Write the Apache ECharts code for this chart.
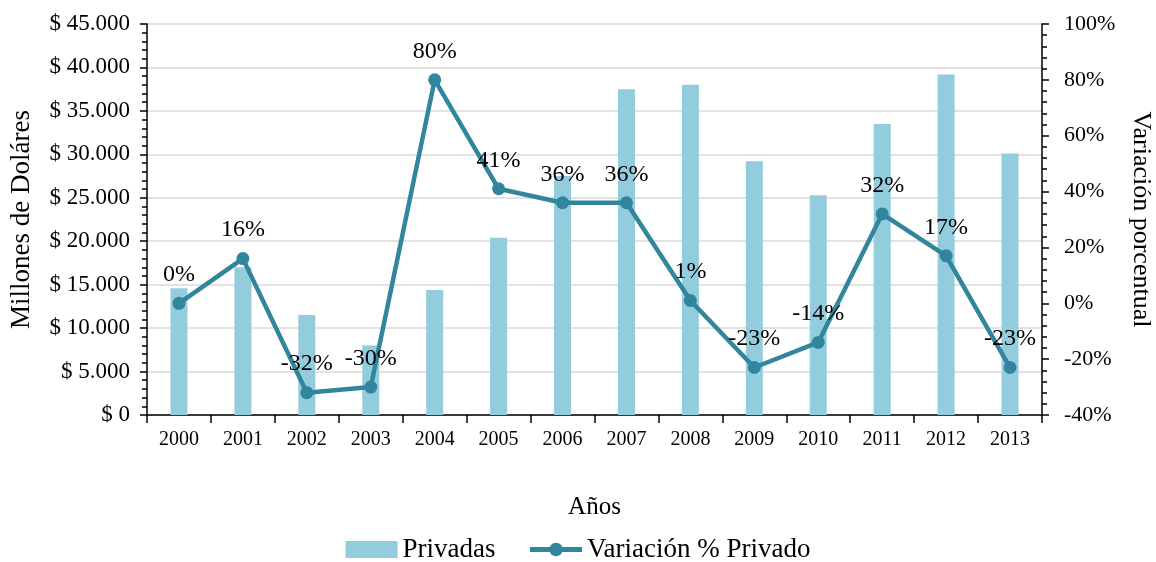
<!DOCTYPE html>
<html>
<head>
<meta charset="utf-8">
<script src="https://cdn.jsdelivr.net/npm/echarts@6/dist/echarts.min.js"></script>
<style>
  html, body { margin: 0; padding: 0; background: #fff; }
  #chart { width: 1156px; height: 562px; }
</style>
</head>
<body>
<div id="chart"></div>
<script>
// datos
var years = ['2000', '2001', '2002', '2003', '2004', '2005', '2006', '2007', '2008', '2009', '2010', '2011', '2012', '2013'];
var privadas = [14600, 17000, 11500, 8000, 14400, 20400, 27500, 37500, 38000, 29200, 25300, 33500, 39200, 30100];
var variacion = [0, 16, -32, -30, 80, 41, 36, 36, 1, -23, -14, 32, 17, -23];

var font = 'Liberation Serif';
var chart = echarts.init(document.getElementById('chart'));

chart.setOption({
  animation: false,
  textStyle: { fontFamily: font, color: '#000' },
  grid: { left: 147, right: 114, top: 24, bottom: 147, outerBoundsMode: 'none' },
  legend: {
    bottom: -6,
    left: 'center',
    itemWidth: 52,
    itemHeight: 17,
    itemGap: 32,
    textStyle: { fontFamily: font, fontSize: 27, color: '#000' },
    data: [
      { name: 'Privadas', icon: 'rect' },
      { name: 'Variación % Privado', lineStyle: { width: 5 } }
    ]
  },
  xAxis: {
    type: 'category',
    data: years,
    name: 'Años',
    nameLocation: 'middle',
    nameGap: 80,
    nameTextStyle: { fontFamily: font, fontSize: 25, color: '#000' },
    axisLine: { lineStyle: { color: '#000', width: 1.5 } },
    axisTick: { show: true, length: 8, lineStyle: { color: '#000', width: 1.5 } },
    axisLabel: { fontFamily: font, fontSize: 20, color: '#000', margin: 15 }
  },
  yAxis: [
    {
      type: 'value',
      min: 0,
      max: 45000,
      interval: 5000,
      name: 'Millones de Doláres',
      nameLocation: 'middle',
      nameGap: 112,
      nameTextStyle: { fontFamily: font, fontSize: 27, color: '#000' },
      axisLine: { show: true, lineStyle: { color: '#000', width: 1.5 } },
      axisTick: { show: true, length: 7, lineStyle: { color: '#000', width: 1.5 } },
      minorTick: { show: true, splitNumber: 5, length: 5, lineStyle: { color: '#000', width: 1.5 } },
      splitLine: { show: true, lineStyle: { color: '#d9d9d9', width: 1.5 } },
      axisLabel: {
        fontFamily: font, fontSize: 23, color: '#000', margin: 17,
        formatter: function (v) { return v === 0 ? '$ 0' : '$ ' + (v / 1000) + '.000'; }
      }
    },
    {
      type: 'value',
      min: -40,
      max: 100,
      interval: 20,
      name: 'Variación porcentual',
      nameLocation: 'middle',
      nameGap: 86,
      nameRotate: -90,
      nameTextStyle: { fontFamily: font, fontSize: 26, color: '#000' },
      axisLine: { show: true, lineStyle: { color: '#000', width: 1.5 } },
      axisTick: { show: true, length: 7, lineStyle: { color: '#000', width: 1.5 } },
      minorTick: { show: true, splitNumber: 5, length: 5, lineStyle: { color: '#000', width: 1.5 } },
      splitLine: { show: false },
      axisLabel: {
        fontFamily: font, fontSize: 22, color: '#000', margin: 22,
        formatter: '{value}%'
      }
    }
  ],
  series: [
    {
      name: 'Privadas',
      type: 'bar',
      data: privadas,
      barWidth: 17,
      itemStyle: { color: '#93cddd' }
    },
    {
      name: 'Variación % Privado',
      type: 'line',
      yAxisIndex: 1,
      data: variacion,
      symbol: 'circle',
      symbolSize: 13,
      lineStyle: { color: '#31859c', width: 4.5 },
      itemStyle: { color: '#31859c' },
      label: {
        show: true,
        position: 'top',
        distance: 10,
        fontFamily: font,
        fontSize: 24,
        color: '#000',
        formatter: function (p) { return p.value + '%'; }
      }
    }
  ]
});
</script>
</body>
</html>
